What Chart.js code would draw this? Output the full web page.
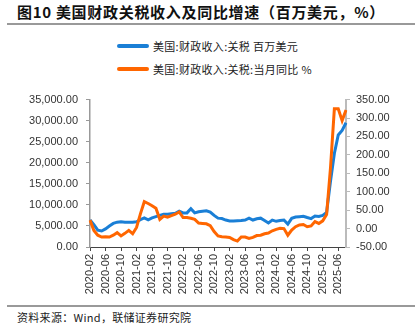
<!DOCTYPE html>
<html>
<head>
<meta charset="utf-8">
<script src="https://cdn.jsdelivr.net/npm/chart.js@4.4.0/dist/chart.umd.min.js"></script>
<style>
body { margin: 0; width: 420px; height: 335px; background: #fff; position: relative; overflow: hidden; font-family: "Noto Sans CJK SC", sans-serif; }
#title { position: absolute; left: 17px; top: 2px; font-size: 15px; font-weight: bold; color: #111; white-space: nowrap; line-height: 20px; letter-spacing: 0.7px; }
.rule { position: absolute; left: 7px; width: 408px; height: 2px; background: #999; }
.swatch { position: absolute; left: 117px; width: 32px; height: 4px; border-radius: 2px; }
.legtext { position: absolute; left: 153px; font-size: 11px; line-height: 14px; color: #222; white-space: nowrap; letter-spacing: 0.3px; }
#source { position: absolute; left: 17px; top: 310px; font-size: 11px; line-height: 14px; color: #222; white-space: nowrap; letter-spacing: 0.3px; }
#wrap { position: absolute; left: 0; top: 85px; width: 420px; height: 215px; }
</style>
</head>
<body>
<div id="title">图10 美国财政关税收入及同比增速（百万美元，%）</div>
<div class="rule" style="top:23px"></div>

<div class="swatch" style="top:44px;background:#1a7fd6"></div>
<div class="legtext" style="top:39px">美国:财政收入:关税 百万美元</div>
<div class="swatch" style="top:67px;background:#ff6600"></div>
<div class="legtext" style="top:62px">美国:财政收入:关税:当月同比 %</div>

<div id="wrap"><canvas id="chart" width="420" height="215"></canvas></div>

<div class="rule" style="top:305px"></div>
<div id="source">资料来源：Wind，联储证券研究院</div>

<script>
// 月份 2020-02 ... 2025-08
const months = [
    "2020-02","2020-03","2020-04","2020-05","2020-06","2020-07","2020-08","2020-09","2020-10","2020-11","2020-12",
    "2021-01","2021-02","2021-03","2021-04","2021-05","2021-06","2021-07","2021-08","2021-09","2021-10","2021-11","2021-12",
    "2022-01","2022-02","2022-03","2022-04","2022-05","2022-06","2022-07","2022-08","2022-09","2022-10","2022-11","2022-12",
    "2023-01","2023-02","2023-03","2023-04","2023-05","2023-06","2023-07","2023-08","2023-09","2023-10","2023-11","2023-12",
    "2024-01","2024-02","2024-03","2024-04","2024-05","2024-06","2024-07","2024-08","2024-09","2024-10","2024-11","2024-12",
    "2025-01","2025-02","2025-03","2025-04","2025-05","2025-06","2025-07","2025-08"
];

// 关税收入，百万美元
const tariffRevenue = [
    6400, 5300, 4000, 3800, 4300, 5000, 5600, 5900, 6000, 5900, 5850,
    5900, 6000, 6500, 6900, 6450, 6900, 7200, 7500, 7750, 7800, 7900,
    8000, 8500, 8100, 8100, 9100, 8100, 8350, 8500, 8600, 8300, 7500,
    6850, 6750, 6400, 6200, 6200, 6250, 6300, 6400, 6850, 6400, 6700,
    6850, 6300, 5700, 6400, 6100, 6300, 6400, 5450, 6800, 7100, 7200,
    7300, 7000, 6750, 7350, 7250, 7500, 8200, 15600, 22200, 26600, 27700,
    29500
];

// 当月同比，%
const tariffYoY = [
    23, -5, -18, -23, -22, -23, -18, -11, -20, -13, -5,
    -14, 3, 40, 73, 68, 62, 55, 25, 34, 31, 35,
    39, 45, 30, 30, 28, 25, 15, 14, 13, 8, -8,
    -20, -22, -23, -24, -30, -34, -23, -23, -27, -24, -19,
    -18, -14, -12, -6, -2, 1, 0, -18, -4, 5, 10,
    11, 5, 7, 19, 14, 21, 38, 165, 325, 325, 293,
    322
];

const leftTicks = { min: 0, max: 35000, step: 5000 };
const rightTicks = { min: -50, max: 350, step: 50 };

const axisFont = { family: "'Liberation Sans', Arial, sans-serif", size: 11 };

function fmt(v) {
    return Number(v).toLocaleString("en-US", { minimumFractionDigits: 2, maximumFractionDigits: 2 });
}

new Chart(document.getElementById("chart"), {
    type: "line",
    data: {
        labels: months,
        datasets: [
            {
                label: "美国:财政收入:关税 百万美元",
                data: tariffRevenue,
                yAxisID: "y",
                borderColor: "#1a7fd6",
                borderWidth: 3,
                pointRadius: 0,
                tension: 0,
                order: 1
            },
            {
                label: "美国:财政收入:关税:当月同比 %",
                data: tariffYoY,
                yAxisID: "y1",
                borderColor: "#ff6600",
                borderWidth: 3,
                pointRadius: 0,
                tension: 0,
                order: 0
            }
        ]
    },
    options: {
        responsive: false,
        animation: false,
        layout: { padding: { top: 10, left: 0, right: 0, bottom: 0 } },
        plugins: { legend: { display: false }, tooltip: { enabled: false } },
        scales: {
            x: {
                offset: false,
                grid: { drawOnChartArea: false, tickLength: 4, color: "#444" },
                border: { color: "#444", width: 1 },
                ticks: {
                    autoSkip: false,
                    minRotation: 90,
                    maxRotation: 90,
                    padding: 3,
                    color: "#333",
                    font: axisFont,
                    callback: function(v, i) {
                        return i % 4 === 0 ? this.getLabelForValue(v) : null;
                    }
                },
                afterFit: s => { s.height = 53; }
            },
            y: {
                position: "left",
                min: leftTicks.min,
                max: leftTicks.max,
                grid: { drawOnChartArea: false, tickLength: 4, color: "#999" },
                border: { color: "#999", width: 1.5 },
                ticks: { stepSize: leftTicks.step, padding: 8, color: "#333", font: axisFont, callback: fmt },
                afterFit: s => { s.width = 90; }
            },
            y1: {
                position: "right",
                min: rightTicks.min,
                max: rightTicks.max,
                grid: { drawOnChartArea: false, tickLength: 4, color: "#bbb" },
                border: { color: "#bbb", width: 2 },
                ticks: { stepSize: rightTicks.step, padding: 6, color: "#333", font: axisFont, callback: fmt },
                afterFit: s => { s.width = 74; }
            }
        }
    }
});
</script>
</body>
</html>
